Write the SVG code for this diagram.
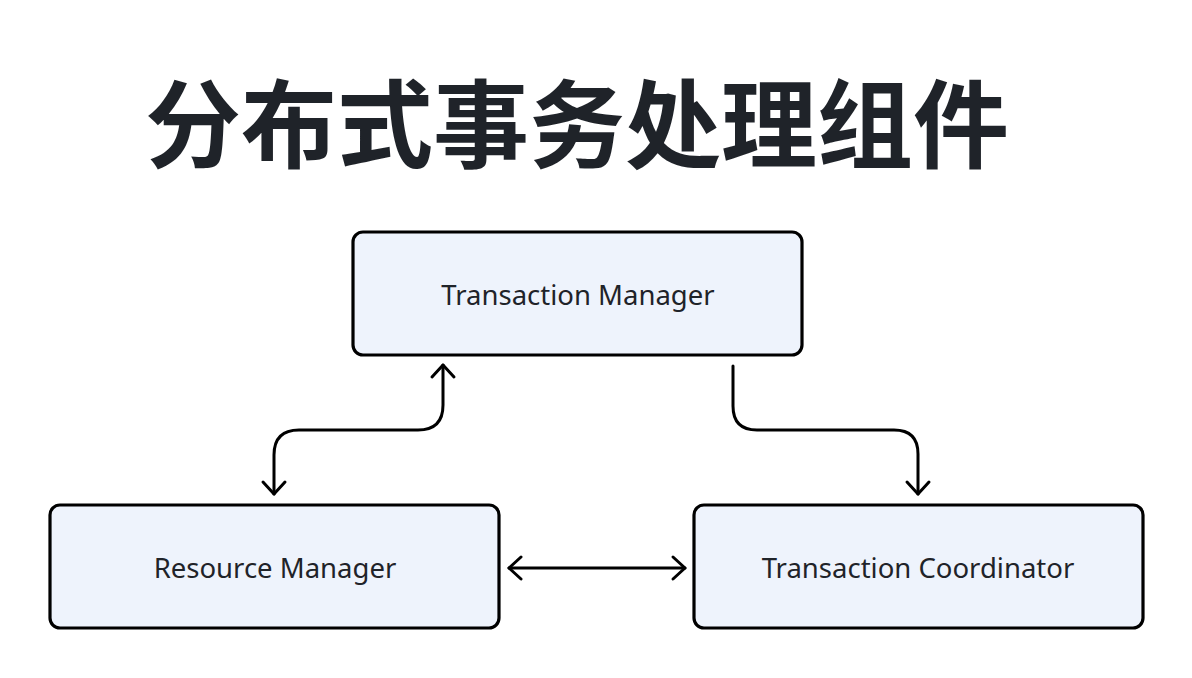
<svg xmlns="http://www.w3.org/2000/svg" width="1192" height="678" viewBox="0 0 1192 678">
<defs>
<style>
.title{font-family:"Noto Sans CJK SC","Noto Sans",sans-serif;font-weight:700;font-size:96px;fill:#1f2329;text-anchor:middle}
.box{fill:#eef3fc;stroke:#000;stroke-width:3.2}
.lbl{font-family:"Noto Sans","Open Sans",sans-serif;font-size:27.5px;fill:#1f2329;text-anchor:middle}
.conn{fill:none;stroke:#000;stroke-width:3;stroke-linecap:round;stroke-linejoin:round}
</style>
<marker id="ah" markerUnits="userSpaceOnUse" markerWidth="30" markerHeight="30" refX="15" refY="15" orient="auto-start-reverse" viewBox="0 0 30 30">
<path d="M3 4 L15 15 L3 26" fill="none" stroke="#000" stroke-width="3" stroke-linecap="round" stroke-linejoin="round"/>
</marker>
</defs>
<rect width="1192" height="678" fill="#fff"/>
<text class="title" x="577" y="160">分布式事务处理组件</text>
<g id="transaction-manager">
<rect class="box" x="353" y="232" width="449" height="123" rx="10"/>
<text class="lbl" x="578" y="305">Transaction Manager</text>
</g>
<g id="resource-manager">
<rect class="box" x="50" y="505" width="449" height="123" rx="10"/>
<text class="lbl" x="275" y="578">Resource Manager</text>
</g>
<g id="transaction-coordinator">
<rect class="box" x="694" y="505" width="449" height="123" rx="10"/>
<text class="lbl" x="918" y="578">Transaction Coordinator</text>
</g>
<g id="connectors">
<path class="conn" d="M274 494 V455 Q274 430 299 430 H418 Q443 430 443 405 V365" marker-start="url(#ah)" marker-end="url(#ah)"/>
<path class="conn" d="M733 366 V406 Q733 430 757 430 H894 Q918 430 918 454 V494" marker-end="url(#ah)"/>
<path class="conn" d="M509 568 H685" marker-start="url(#ah)" marker-end="url(#ah)"/>
</g>
</svg>
